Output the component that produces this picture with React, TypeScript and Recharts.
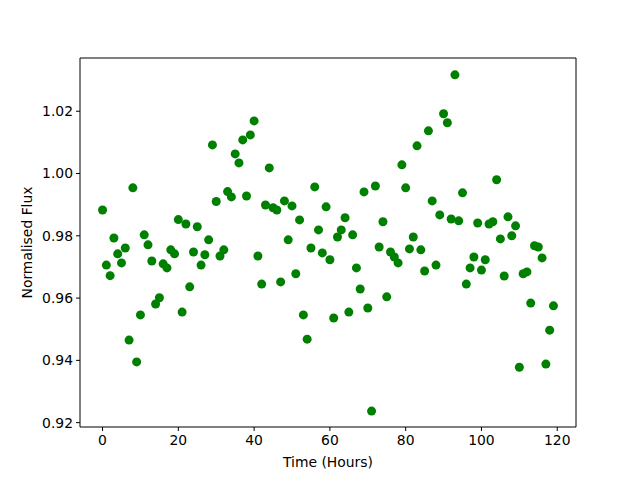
import { ScatterChart, Scatter, XAxis, YAxis, ReferenceLine } from "recharts";

const hours = Array.from({ length: 120 }, (_, i) => i);

const flux = [
  0.9883, 0.9706, 0.9672, 0.9793, 0.9742, 0.9713, 0.9761, 0.9465, 0.9954, 0.9395,
  0.9546, 0.9803, 0.9771, 0.9719, 0.9581, 0.9601, 0.971, 0.9697, 0.9755, 0.9742,
  0.9852, 0.9555, 0.9838, 0.9636, 0.9748, 0.9829, 0.9706, 0.9739, 0.9787, 1.0092,
  0.991, 0.9735, 0.9755, 0.9942, 0.9925, 1.0063, 1.0034, 1.0108, 0.9928, 1.0124,
  1.0169, 0.9735, 0.9645, 0.9899, 1.0018, 0.989, 0.9883, 0.9652, 0.9912, 0.9787,
  0.9896, 0.9678, 0.9851, 0.9546, 0.9468, 0.9761, 0.9957, 0.9819, 0.9745, 0.9893,
  0.9723, 0.9536, 0.9796, 0.9819, 0.9858, 0.9555, 0.9803, 0.9697, 0.9629, 0.9941,
  0.9568, 0.9237, 0.996, 0.9764, 0.9845, 0.9604, 0.9748, 0.9732, 0.9713, 1.0028,
  0.9954, 0.9758, 0.9796, 1.0089, 0.9755, 0.9687, 1.0137, 0.9912, 0.9706, 0.9867,
  1.0192, 1.0163, 0.9854, 1.0317, 0.9848, 0.9938, 0.9645, 0.9697, 0.9732, 0.9841,
  0.969, 0.9723, 0.9838, 0.9845, 0.998, 0.979, 0.9671, 0.9861, 0.98, 0.9832,
  0.9378, 0.9678, 0.9684, 0.9584, 0.9768, 0.9764, 0.9729, 0.9388, 0.9497, 0.9575,
];

const xTicks = [0, 20, 40, 60, 80, 100, 120];
const yTicks = [0.92, 0.94, 0.96, 0.98, 1.0, 1.02];

const xDomain = [-5.95, 124.95];
const yDomain = [0.9186, 1.0371];

const data = hours.map((h, i) => ({ time: h, flux: flux[i] }));

const font = "'DejaVu Sans', sans-serif";
const textStyle = { fontSize: 13.9, fill: "#000", fontFamily: font };

const Dot = (props: any) => <circle cx={props.cx} cy={props.cy} r={4.5} fill="#008000" />;

export default function App() {
  return (
    <div style={{ position: "absolute", left: 0, top: 0, width: 640, height: 480, background: "#fff" }}>
      <ScatterChart width={640} height={480} margin={{ top: 58, right: 64, bottom: 3, left: 0 }}>
        <XAxis
          dataKey="time"
          type="number"
          domain={xDomain}
          ticks={xTicks}
          allowDataOverflow
          height={50}
          tickSize={4}
          tickMargin={4}
          stroke="#000"
          tick={textStyle}
          label={{ value: "Time (Hours)", position: "insideBottom", offset: 10, style: textStyle }}
        />
        <YAxis
          dataKey="flux"
          type="number"
          domain={yDomain}
          ticks={yTicks}
          allowDataOverflow
          width={80}
          tickSize={4}
          tickMargin={3}
          stroke="#000"
          tick={textStyle}
          tickFormatter={(v: number) => v.toFixed(2)}
          label={{ value: "Normalised Flux", angle: -90, position: "insideLeft", offset: 27, style: { ...textStyle, textAnchor: "middle" } }}
        />
        {/* top and right spines */}
        <ReferenceLine y={yDomain[1]} stroke="#000" ifOverflow="visible" />
        <ReferenceLine x={xDomain[1]} stroke="#000" ifOverflow="visible" />
        <Scatter data={data} shape={Dot} isAnimationActive={false} />
      </ScatterChart>
    </div>
  );
}
